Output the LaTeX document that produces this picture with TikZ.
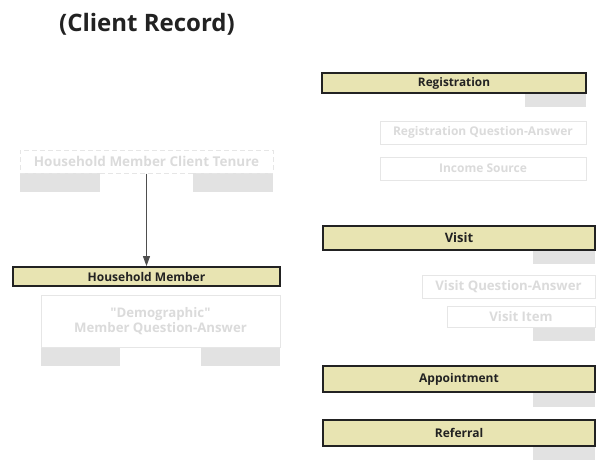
\documentclass[tikz,border=0pt]{standalone}
\usepackage{fontspec}
\setmainfont{Open Sans}
\newfontfamily\rawfont{Open Sans}[Ligatures=TeXOff]
\usetikzlibrary{arrows.meta}
\definecolor{khaki}{HTML}{E8E4B2}
\definecolor{dark}{HTML}{222222}
\definecolor{ghost}{HTML}{E2E2E2}
\definecolor{ghosttext}{HTML}{DBDBDB}
\definecolor{ghostline}{HTML}{E6E6E6}
\tikzset{
  main/.style={draw=dark, line width=1.8pt, fill=khaki, inner sep=0pt, font=\bfseries\fontsize{11}{13}\selectfont, text=dark},
  faint/.style={draw=ghostline, line width=1pt, fill=white, inner sep=0pt, font=\bfseries\fontsize{13.2}{16}\selectfont, text=ghosttext, align=center},
  faintsmall/.style={faint, font=\bfseries\fontsize{12}{15}\selectfont},
  graybar/.style={fill=ghost, draw=none, inner sep=0pt},
}
\begin{document}
\begin{tikzpicture}[x=1pt,y=-1pt]
\useasboundingbox (0,0) rectangle (596,463);
\node[font=\bfseries\fontsize{24}{28}\selectfont, text=dark] (title) at (147,24) {(Client Record)};

% Household Member Client Tenure
\node[graybar, minimum width=80pt, minimum height=19pt] (tg1) at (60,182.5) {};
\node[graybar, minimum width=80pt, minimum height=19pt] (tg2) at (233,182.5) {};
\node[faint, dashed, dash pattern=on 5pt off 3pt, draw=ghostline, fill=none, minimum width=253pt, minimum height=23pt, font=\bfseries\fontsize{13.5}{16}\selectfont] (tenure) at (146.5,161.5) {Household Member Client Tenure};

% Household Member
\node[main, font=\bfseries\fontsize{12}{14}\selectfont, minimum width=267pt, minimum height=19pt] (hm) at (146.5,276.5) {Household Member};
\draw[-{Triangle[length=10pt,width=7pt]}, dark!80, line width=1pt] (tenure.south) -- (hm.north);

% Demographic
\node[graybar, minimum width=79pt, minimum height=19pt] (dg1) at (80.5,356.5) {};
\node[graybar, minimum width=79pt, minimum height=19pt] (dg2) at (240.5,356.5) {};
\node[faint, minimum width=239pt, minimum height=52pt, font=\rawfont\bfseries\fontsize{13.2}{16}\selectfont] (demo) at (160.5,321) {"Demographic"\\[-1pt]Member Question-Answer};

% Registration
\node[graybar, minimum width=61pt, minimum height=14pt] (rg) at (555.5,100) {};
\node[main, font=\bfseries\fontsize{11.8}{14}\selectfont, minimum width=264pt, minimum height=20pt] (reg) at (454,83) {Registration};
\node[faintsmall, minimum width=206pt, minimum height=23pt] (rqa) at (483,132.5) {Registration Question-Answer};
\node[faintsmall, minimum width=206pt, minimum height=23pt] (inc) at (483,168.5) {Income Source};

% Visit
\node[graybar, minimum width=62pt, minimum height=14pt] (vg) at (564,257) {};
\node[main, font=\bfseries\fontsize{13}{15}\selectfont, minimum width=272pt, minimum height=24pt] (visit) at (459,238) {Visit};
\node[faint, minimum width=173pt, minimum height=23pt] (vqa) at (508.5,286.5) {Visit Question-Answer};
\node[graybar, minimum width=62pt, minimum height=14pt] (vig) at (564,334) {};
\node[faint, minimum width=148pt, minimum height=21pt] (vi) at (521,316.5) {Visit Item};

% Appointment
\node[graybar, minimum width=62pt, minimum height=15pt] (ag) at (564,399.5) {};
\node[main, font=\bfseries\fontsize{12}{14}\selectfont, minimum width=272pt, minimum height=26pt] (app) at (459,379) {Appointment};

% Referral
\node[graybar, minimum width=62pt, minimum height=14pt] (fg) at (564,453) {};
\node[main, font=\bfseries\fontsize{12}{14}\selectfont, minimum width=272pt, minimum height=26pt] (ref) at (459,433) {Referral};
\end{tikzpicture}
\end{document}
